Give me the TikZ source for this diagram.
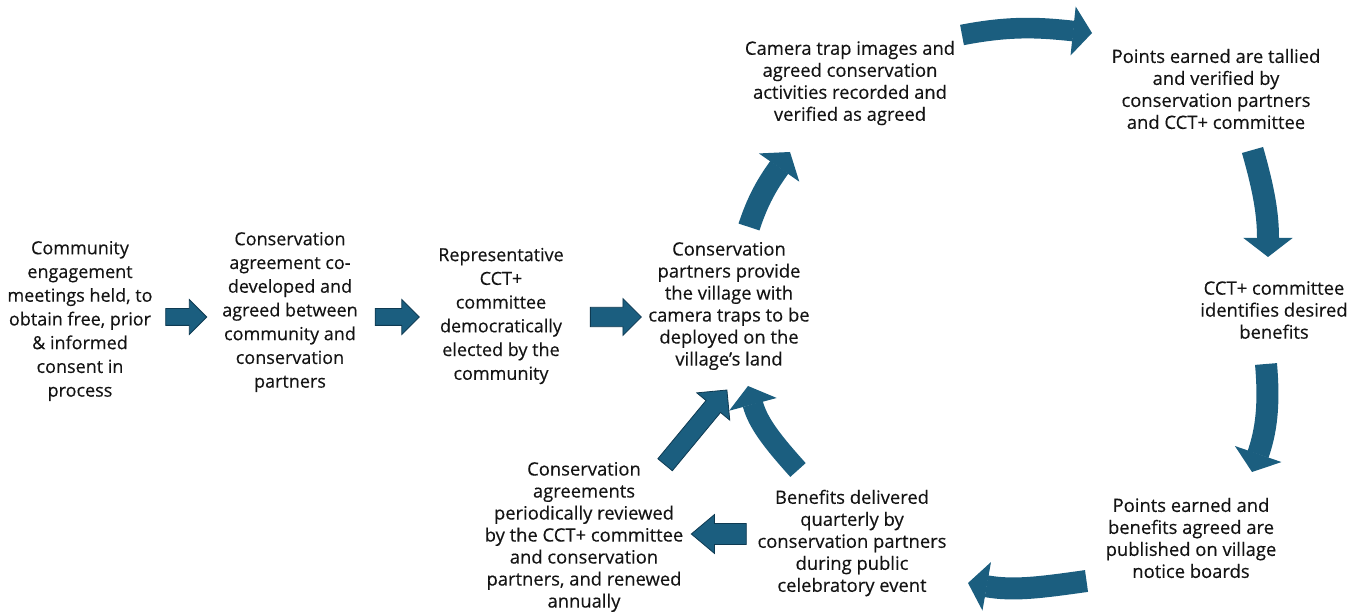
\documentclass[tikz,border=0pt]{standalone}
\usepackage{fontspec}
\setmainfont{Open Sans}
\newfontfamily\stepfont{Open Sans}[FakeBold=0.35]
\usetikzlibrary{arrows.meta,shapes.arrows}

\definecolor{arrowblue}{RGB}{27,94,127}
\definecolor{arrowline}{RGB}{14,58,82}
\definecolor{textgray}{RGB}{20,20,20}

\tikzset{
  steptext/.style={align=center, text=textgray, inner sep=0pt, font=\stepfont\fontsize{13.8}{16.5}\selectfont},
  bigtext/.style={steptext, font=\stepfont\fontsize{13.5}{17.8}\selectfont},
  flatarrow/.style={single arrow, draw=arrowline, fill=arrowblue, line width=0.6pt,
    inner xsep=0pt, single arrow tip angle=90},
  bentarrow/.style={draw=arrowblue, line width=#1,
    -{Triangle[length=14.25pt, width=36.75pt, line width=1pt]}},
  bentarrow/.default=16.5pt
}

\begin{document}
\begin{tikzpicture}[x=0.75pt, y=0.75pt]
  \useasboundingbox (0,0) rectangle (1363,614);

  % steps
  \node[bigtext] (meet) at (80,293) {Community\\engagement\\meetings held, to\\obtain free, prior\\\& informed\\consent in\\process};
  \node[bigtext] (agree) at (290,302) {Conservation\\agreement co-\\developed and\\agreed between\\community and\\conservation\\partners};
  \node[bigtext] (elect) at (501,298) {Representative\\CCT+\\committee\\democratically\\elected by the\\community};
  \node[steptext] (traps) at (729,308) {Conservation\\partners provide\\the village with\\camera traps to be\\deployed on the\\village’s land};
  \node[steptext] (record) at (850,531) {Camera trap images and\\agreed conservation\\activities recorded and\\verified as agreed};
  \node[steptext] (tally) at (1216,525) {Points earned are tallied\\and verified by\\conservation partners\\and CCT+ committee};
  \node[steptext] (wish) at (1274,304) {CCT+ committee\\identifies desired\\benefits};
  \node[steptext] (publish) at (1191,76) {Points earned and\\benefits agreed are\\published on village\\notice boards};
  \node[steptext] (deliver) at (852,71) {Benefits delivered\\quarterly by\\conservation partners\\during public\\celebratory event};
  \node[steptext] (review) at (584,77) {Conservation\\agreements\\periodically reviewed\\by the CCT+ committee\\and conservation\\partners, and renewed\\annually};

  % straight arrows
  \node[flatarrow, minimum height=30.75pt, inner ysep=6pt, single arrow head extend=6.75pt] (ar1) at (182,297) {};
  \node[flatarrow, minimum height=33pt, inner ysep=6pt, single arrow head extend=6.75pt] (ar2) at (393,297) {};
  \node[flatarrow, minimum height=38.25pt, inner ysep=7pt, single arrow head extend=6.5pt] (ar3) at (611,297) {};
  \node[flatarrow, minimum height=72.75pt, inner ysep=6.75pt, single arrow head extend=9pt, rotate=50.4] (ar4) at (693,183) {};
  \node[flatarrow, minimum height=41.25pt, inner ysep=7.5pt, single arrow head extend=6.75pt,
    single arrow tip angle=80, rotate=180] (ar5) at (725,80) {};

  % bent arrows of the cycle
  \coordinate (up1) at (749,387);    \coordinate (up2) at (790,462);
  \coordinate (top1) at (962,579);   \coordinate (top2) at (1092,581);
  \coordinate (rt1) at (1252.5,464); \coordinate (rt2) at (1268,357);
  \coordinate (rb1) at (1266,250);   \coordinate (rb2) at (1252,142);
  \coordinate (bot1) at (1086.5,33); \coordinate (bot2) at (968,31);
  \coordinate (back1) at (798,144);  \coordinate (back2) at (748,228);

  \draw[bentarrow] (up1) to[out=72, in=235] (up2);
  \draw[bentarrow=15.5pt] (top1) to[out=11, in=174] (top2);
  \draw[bentarrow] (rt1) to[out=-74, in=90] (rt2);
  \draw[bentarrow] (rb1) to[out=-85, in=71] (rb2);
  \draw[bentarrow] (bot1) to[out=188, in=-10] (bot2);
  \draw[bentarrow=15.5pt] (back1) to[out=132, in=-75] (back2);

\end{tikzpicture}
\end{document}
